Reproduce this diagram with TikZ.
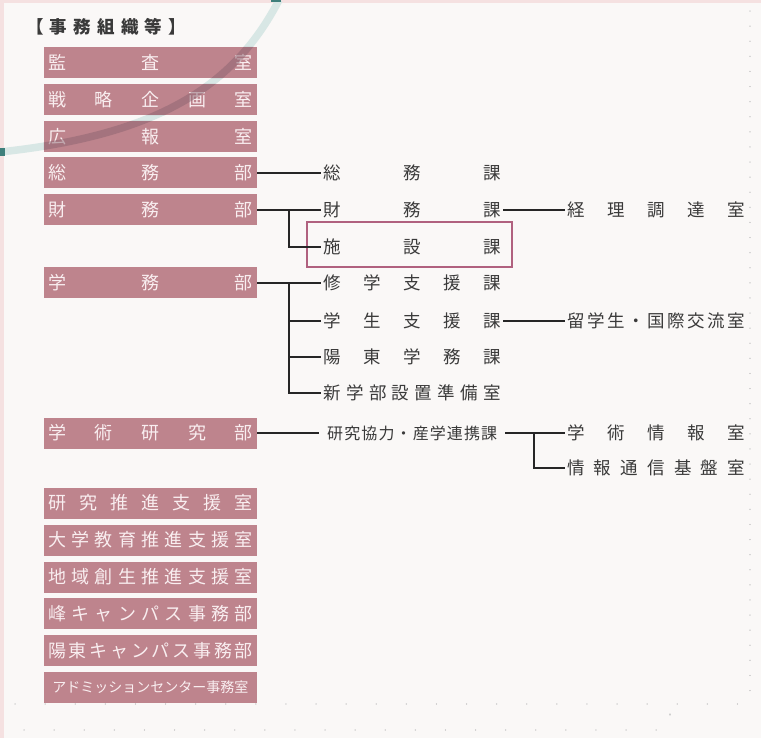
\documentclass[tikz,border=0pt]{standalone}
\usepackage{fontspec}
\setmainfont{Noto Sans CJK JP}
\definecolor{bgcol}{HTML}{FAF8F7}
\definecolor{pinkedge}{HTML}{F5E1E1}
\definecolor{boxrose}{HTML}{BE848D}
\definecolor{boxtext}{HTML}{F9EEF0}
\definecolor{inkgrey}{HTML}{3A3A3A}
\definecolor{linecol}{HTML}{262626}
\definecolor{hilite}{HTML}{B0617F}
\definecolor{arclight}{HTML}{D8E7E5}
\definecolor{arcdeep}{HTML}{8C6470}
\definecolor{tealdark}{HTML}{3E7F7B}
\definecolor{dotcol}{HTML}{CFCFCF}
\begin{document}
\begin{tikzpicture}[x=1pt,y=-1pt,
  unitbox/.style={fill=boxrose,minimum width=213pt,minimum height=31pt,inner sep=0pt,text=boxtext,font=\fontsize{18}{18}\selectfont},
  sect/.style={inner xsep=2pt,inner ysep=0pt,text=inkgrey,font=\fontsize{17.5}{18}\selectfont,anchor=west},
  conn/.style={draw=linecol,line width=2pt},
  dotline/.style={draw=dotcol,line width=1.3pt,line cap=round},
  arcpath/.style={line width=7.5pt},
]
\useasboundingbox (0,0) rectangle (761,738);
\fill[bgcol] (0,0) rectangle (761,738);
\fill[pinkedge] (0,0) rectangle (4,738);
\fill[pinkedge] (0,0) rectangle (761,3);
% dotted guides
\draw[dotline,dash pattern=on 0.1pt off 15pt] (750,11) -- (750,700);
\draw[dotline,dash pattern=on 0.1pt off 30pt] (15,704) -- (761,704);
\draw[dotline,dash pattern=on 0.1pt off 30pt] (24,730) -- (672,730);
\draw[dotline] (670,714) -- (670,715);
% arc (under, light)
\draw[arclight,arcpath] (0,152) .. controls (160,135) and (235,85) .. (279,0);
\fill[tealdark] (0,148.5) rectangle (5,156);
\fill[tealdark] (271,0) rectangle (281,2.5);
% title
\node[anchor=west,inner sep=0pt,text=inkgrey,font=\fontsize{17.5}{18}\selectfont\bfseries] (title) at (26,27)
  {\makebox[160pt]{【\hfill 事\hfill 務\hfill 組\hfill 織\hfill 等\hfill 】}};
% left boxes
\node[unitbox] (kansa)     at (150.5,62.5)  {\makebox[205pt]{監\hfill 査\hfill 室}};
\node[unitbox] (senryaku)  at (150.5,99.5)  {\makebox[205pt]{戦\hfill 略\hfill 企\hfill 画\hfill 室}};
\node[unitbox] (kouhou)    at (150.5,136.5) {\makebox[205pt]{広\hfill 報\hfill 室}};
\node[unitbox] (soumubu)   at (150.5,173)   {\makebox[205pt]{総\hfill 務\hfill 部}};
\node[unitbox] (zaimubu)   at (150.5,210)   {\makebox[205pt]{財\hfill 務\hfill 部}};
\node[unitbox] (gakumubu)  at (150.5,283)   {\makebox[205pt]{学\hfill 務\hfill 部}};
\node[unitbox] (gakujutsu) at (150.5,433)   {\makebox[205pt]{学\hfill 術\hfill 研\hfill 究\hfill 部}};
\node[unitbox] (kenkyu)    at (150.5,503)   {\makebox[205pt]{研\hfill 究\hfill 推\hfill 進\hfill 支\hfill 援\hfill 室}};
\node[unitbox] (daigaku)   at (150.5,540)   {\makebox[205pt]{大\hfill 学\hfill 教\hfill 育\hfill 推\hfill 進\hfill 支\hfill 援\hfill 室}};
\node[unitbox] (chiiki)    at (150.5,577)   {\makebox[205pt]{地\hfill 域\hfill 創\hfill 生\hfill 推\hfill 進\hfill 支\hfill 援\hfill 室}};
\node[unitbox] (mine)      at (150.5,613.5) {\makebox[205pt]{峰\hfill キ\hfill ャ\hfill ン\hfill パ\hfill ス\hfill 事\hfill 務\hfill 部}};
\node[unitbox] (youtou)    at (150.5,650.5) {\makebox[205pt]{陽\hfill 東\hfill キ\hfill ャ\hfill ン\hfill パ\hfill ス\hfill 事\hfill 務\hfill 部}};
\node[unitbox,font=\fontsize{14}{14}\selectfont] (admission) at (150.5,687)
  {\makebox[192pt]{ア\hfill ド\hfill ミ\hfill ッ\hfill シ\hfill ョ\hfill ン\hfill セ\hfill ン\hfill タ\hfill ー\hfill 事\hfill 務\hfill 室}};
% arc (over boxes, darker shade)
\begin{scope}
\clip (kansa.north west) rectangle (kansa.south east)
      (senryaku.north west) rectangle (senryaku.south east)
      (kouhou.north west) rectangle (kouhou.south east);
\draw[arcdeep,opacity=0.5,arcpath] (0,152) .. controls (160,135) and (235,85) .. (279,0);
\end{scope}
% second column
\node[sect] (soumuka)    at (321,173) {\makebox[178pt]{総\hfill 務\hfill 課}};
\node[sect] (zaimuka)    at (321,210) {\makebox[178pt]{財\hfill 務\hfill 課}};
\node[sect] (shisetsuka) at (321,247) {\makebox[178pt]{施\hfill 設\hfill 課}};
\node[sect] (shugaku)    at (321,283) {\makebox[178pt]{修\hfill 学\hfill 支\hfill 援\hfill 課}};
\node[sect] (gakusei)    at (321,321) {\makebox[178pt]{学\hfill 生\hfill 支\hfill 援\hfill 課}};
\node[sect] (yougaku)    at (321,357) {\makebox[178pt]{陽\hfill 東\hfill 学\hfill 務\hfill 課}};
\node[sect] (shingaku)   at (321,393) {\makebox[178pt]{新\hfill 学\hfill 部\hfill 設\hfill 置\hfill 準\hfill 備\hfill 室}};
\node[sect,inner xsep=8pt,font=\fontsize{16}{16}\selectfont] (renkei) at (319,433)
  {\makebox[170pt]{研\hfill 究\hfill 協\hfill 力\hfill ・\hfill 産\hfill 学\hfill 連\hfill 携\hfill 課}};
% third column
\node[sect] (keiri)    at (565,210) {\makebox[178pt]{経\hfill 理\hfill 調\hfill 達\hfill 室}};
\node[sect] (ryugaku)  at (565,321) {\makebox[178pt]{留\hfill 学\hfill 生\hfill ・\hfill 国\hfill 際\hfill 交\hfill 流\hfill 室}};
\node[sect] (gakujoho) at (565,433) {\makebox[178pt]{学\hfill 術\hfill 情\hfill 報\hfill 室}};
\node[sect] (tsushin)  at (565,468) {\makebox[178pt]{情\hfill 報\hfill 通\hfill 信\hfill 基\hfill 盤\hfill 室}};
% highlight
\draw[hilite,line width=2.5pt] (307,222) rectangle (512,267);
% connectors
\coordinate (zb) at (289,210);
\coordinate (gb) at (289,283);
\coordinate (rb) at (534,433);
\draw[conn] (soumubu.east) -- (soumuka.west);
\draw[conn] (zaimubu.east) -- (zaimuka.west);
\draw[conn] (zb) |- (shisetsuka.west);
\draw[conn] (zaimuka.east) -- (keiri.west);
\draw[conn] (gakumubu.east) -- (shugaku.west);
\draw[conn] (gb) |- (gakusei.west);
\draw[conn] (gb) |- (yougaku.west);
\draw[conn] (gb) |- (shingaku.west);
\draw[conn] (gakusei.east) -- (ryugaku.west);
\draw[conn] (gakujutsu.east) -- (renkei.west);
\draw[conn] (renkei.east) -- (gakujoho.west);
\draw[conn] (rb) |- (tsushin.west);
\end{tikzpicture}
\end{document}
